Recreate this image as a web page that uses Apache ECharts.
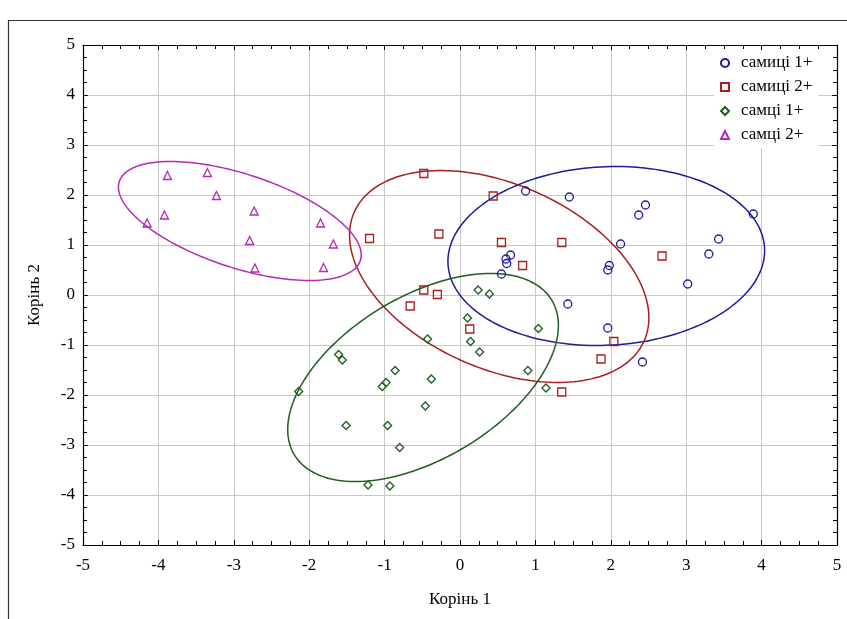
<!DOCTYPE html>
<html>
<head>
<meta charset="utf-8">
<script src="https://cdn.jsdelivr.net/npm/echarts@6/dist/echarts.min.js"></script>
<style>html,body{margin:0;padding:0;background:#fff}#c{width:847px;height:619px}</style>
</head>
<body>
<div id="c"></div>
<script>
// ---- data ----
var seriesNames = ['самиці 1+', 'самиці 2+', 'самці 1+', 'самці 2+'];
var xTicks = [-5, -4, -3, -2, -1, 0, 1, 2, 3, 4, 5];
var yTicks = [-5, -4, -3, -2, -1, 0, 1, 2, 3, 4, 5];

var females1 = [
  [0.87, 2.08], [1.45, 1.96], [2.46, 1.80], [2.37, 1.60], [3.89, 1.62], [2.13, 1.02],
  [3.43, 1.12], [3.30, 0.82], [0.67, 0.80], [0.61, 0.72], [0.62, 0.63], [0.55, 0.42],
  [1.98, 0.59], [1.96, 0.50], [3.02, 0.22], [1.43, -0.18], [1.96, -0.66], [2.42, -1.34]
];
var females2 = [
  [-0.48, 2.43], [0.44, 1.98], [-1.20, 1.13], [-0.28, 1.22], [0.55, 1.05], [1.35, 1.05],
  [2.68, 0.78], [0.83, 0.59], [-0.48, 0.10], [-0.30, 0.01], [-0.66, -0.22], [0.13, -0.68],
  [1.35, -1.94], [2.04, -0.93], [1.87, -1.28]
];
var males1 = [
  [0.24, 0.10], [0.39, 0.02], [0.10, -0.46], [1.04, -0.67], [-0.43, -0.88], [0.14, -0.93],
  [0.26, -1.14], [-1.61, -1.19], [-1.56, -1.30], [-0.86, -1.51], [-0.38, -1.68], [0.90, -1.51],
  [-0.98, -1.75], [-1.03, -1.83], [-2.14, -1.93], [1.14, -1.86], [-0.46, -2.22], [-1.51, -2.61],
  [-0.96, -2.61], [-0.80, -3.05], [-1.22, -3.80], [-0.93, -3.82]
];
var males2 = [
  [-3.88, 2.39], [-3.35, 2.45], [-3.23, 1.99], [-3.92, 1.60], [-4.15, 1.44], [-2.73, 1.68],
  [-2.79, 1.09], [-2.72, 0.54], [-1.85, 1.44], [-1.68, 1.02], [-1.81, 0.55]
];

// confidence ellipses (centre, half extents, tilt)
var ellipseCenterX = [1.94, 0.52, -0.49, -2.92];
var ellipseCenterY = [0.78, 0.37, -1.65, 1.48];
var ellipseHalfX   = [2.10, 1.985, 1.795, 1.61];
var ellipseHalfY   = [1.79, 2.12, 2.08, 1.19];
var ellipseTilt    = [0.06, -0.39, 0.50, -0.57];

var colors = ['#1c1c9c', '#a81e1e', '#1e5e1e', '#b42ab4'];
var symbols = ['circle', 'rect', 'diamond', 'triangle'];
var symbolSizes = [8, 8, 8, 8];
var groups = [females1, females2, males1, males2];

var FONT = '"Liberation Serif", "Times New Roman", serif';

function axisBase(pos) {
  return {
    type: 'value', min: -5, max: 5, interval: 1, position: pos,
    axisLine: { show: true, onZero: false, lineStyle: { color: '#000', width: 1.2 } },
    axisTick: { show: true, inside: true, length: 5, lineStyle: { color: '#000' } },
    minorTick: { show: true, splitNumber: 4, length: 4, lineStyle: { color: '#000' } },
    splitLine: { show: false },
    axisLabel: { show: false }
  };
}

var xMain = axisBase('bottom');
xMain.splitLine = { show: true, lineStyle: { color: '#c8c8c8', width: 1 } };
xMain.axisLabel = { show: true, fontFamily: FONT, fontSize: 17, color: '#000', margin: 12,
  formatter: function (v) { return xTicks.indexOf(v) >= 0 ? String(v) : ''; } };
xMain.name = 'Корінь 1';
xMain.nameLocation = 'middle';
xMain.nameGap = 46;
xMain.nameTextStyle = { fontFamily: FONT, fontSize: 17, color: '#000' };

var yMain = axisBase('left');
yMain.splitLine = { show: true, lineStyle: { color: '#c8c8c8', width: 1 } };
yMain.axisLabel = { show: true, fontFamily: FONT, fontSize: 17, color: '#000', margin: 8,
  formatter: function (v) { return yTicks.indexOf(v) >= 0 ? String(v) : ''; } };
yMain.name = 'Корінь 2';
yMain.nameLocation = 'middle';
yMain.nameGap = 40;
yMain.nameTextStyle = { fontFamily: FONT, fontSize: 17, color: '#000' };

var series = [];
for (var g = 0; g < 4; g++) {
  (function (g) {
    series.push({
      type: 'custom',
      name: 'ellipse' + g,
      xAxisIndex: 0, yAxisIndex: 0,
      data: [[ellipseCenterX[g], ellipseCenterY[g]]],
      silent: true,
      z: 2,
      renderItem: function (params, api) {
        var pts = [];
        var n = 180;
        var r = ellipseTilt[g];
        var s = Math.sqrt(1 - r * r);
        for (var i = 0; i <= n; i++) {
          var t = 2 * Math.PI * i / n;
          var x = ellipseCenterX[g] + ellipseHalfX[g] * Math.cos(t);
          var y = ellipseCenterY[g] + ellipseHalfY[g] * (r * Math.cos(t) + s * Math.sin(t));
          pts.push(api.coord([x, y]));
        }
        return { type: 'polyline', shape: { points: pts },
          style: { stroke: colors[g], fill: null, lineWidth: 1.5 } };
      }
    });
  })(g);
}
for (var g2 = 0; g2 < 4; g2++) {
  series.push({
    type: 'scatter',
    name: 's' + g2,
    xAxisIndex: 0, yAxisIndex: 0,
    data: groups[g2],
    symbol: symbols[g2],
    symbolSize: symbolSizes[g2],
    z: 3,
    itemStyle: { color: 'rgba(255,255,255,0)', borderColor: colors[g2], borderWidth: 1.3, opacity: 1 },
    emphasis: { disabled: true }
  });
}

var chart = echarts.init(document.getElementById('c'), null, { renderer: 'canvas' });
chart.setOption({
  backgroundColor: '#fff',
  animation: false,
  grid: { left: 83, top: 45, right: 10, bottom: 74, containLabel: false },
  xAxis: [xMain, axisBase('top')],
  yAxis: [yMain, axisBase('right')],
  legend: {
    orient: 'vertical',
    left: 714, top: 50,
    padding: [4, 6, 4, 6],
    itemGap: 6,
    itemWidth: 8, itemHeight: 8,
    backgroundColor: '#fff',
    data: ['s0', 's1', 's2', 's3'],
    formatter: function (name) { return seriesNames[Number(name.slice(1))]; },
    textStyle: { fontFamily: FONT, fontSize: 17, color: '#000', lineHeight: 18, padding: [0, 0, 0, 7] },
    selectedMode: false
  },
  graphic: [{
    type: 'rect', silent: true, z: -1,
    shape: { x: 8.5, y: 20.5, width: 1000, height: 1000 },
    style: { fill: null, stroke: '#333', lineWidth: 1.2 }
  }],
  series: series
});
</script>
</body>
</html>
